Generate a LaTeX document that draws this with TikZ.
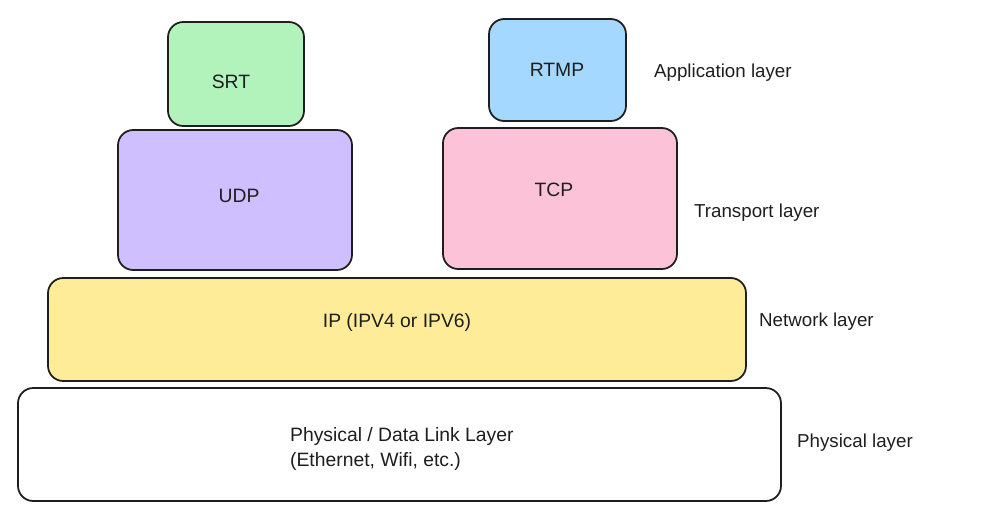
\documentclass[tikz,border=0pt]{standalone}
\usepackage{fontspec}
\setmainfont{Liberation Sans}
\usetikzlibrary{fit}

\definecolor{ink}{HTML}{1E1E1E}
\definecolor{appgreen}{HTML}{B2F2BB}
\definecolor{appblue}{HTML}{A5D8FF}
\definecolor{udppurple}{HTML}{D0BFFF}
\definecolor{tcppink}{HTML}{FCC2D7}
\definecolor{ipyellow}{HTML}{FFEC99}

\begin{document}
\begin{tikzpicture}[x=0.03cm,y=-0.03cm,
    layer/.style={draw=ink, line width=1.5pt, rounded corners=13pt, inner sep=0pt},
    boxtext/.style={text=ink, font=\fontsize{16.5}{21}\selectfont},
    side/.style={anchor=west, text=ink, font=\fontsize{16}{18}\selectfont}]
  \useasboundingbox (0,0) rectangle (991,521);

  % protocol boxes
  \node[layer, fill=appgreen, fit={(168,22) (304,126)}] (srt) {};
  \node[layer, fill=appblue, fit={(489,19) (626,121)}] (rtmp) {};
  \node[layer, fill=udppurple, fit={(118,130) (352,270)}] (udp) {};
  \node[layer, fill=tcppink, fit={(443,128) (677,269)}] (tcp) {};
  \node[layer, fill=ipyellow, fit={(48,278) (746,381)}] (ip) {};
  \node[layer, fill=white, fit={(18,388) (781,501)}] (phy) {};

  \node[boxtext] (srttext) at (231,82) {SRT};
  \node[boxtext] (rtmptext) at (557,70) {RTMP};
  \node[boxtext] (udptext) at (239,196) {UDP};
  \node[boxtext] (tcptext) at (554,190) {TCP};
  \node[boxtext] (iptext) at (397,322) {IP (IPV4 or IPV6)};
  \node[boxtext, align=left, anchor=west]
    (phytext) at (286,449) {Physical / Data Link Layer\\(Ethernet, Wifi, etc.)};

  % layer names
  \node[side] (applabel) at (650,73) {Application layer};
  \node[side] (translabel) at (690,213) {Transport layer};
  \node[side] (netlabel) at (755,322) {Network layer};
  \node[side] (phylabel) at (793,443) {Physical layer};
\end{tikzpicture}
\end{document}
